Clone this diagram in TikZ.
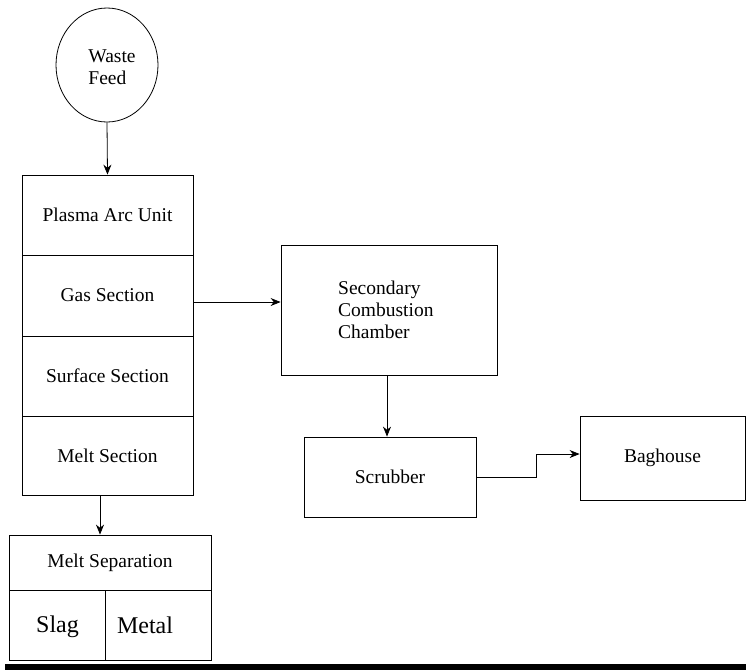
\documentclass[tikz,border=0pt]{standalone}
\usepackage{fontspec}
\newfontfamily\tnr{LiberationSerif}[Extension=.ttf,UprightFont=*-Regular,BoldFont=*-Bold]
\usetikzlibrary{shapes.geometric,arrows.meta}
\begin{document}
\begin{tikzpicture}[x=1pt,y=-1pt,
  blk/.style={draw, rectangle, inner sep=0pt, line width=0.8pt, font=\tnr\fontsize{19.5}{22}\selectfont},
  txt/.style={inner sep=0pt, font=\tnr\fontsize{19.5}{22}\selectfont},
  big/.style={inner sep=0pt, font=\tnr\fontsize{24}{26}\selectfont},
  arr/.style={line width=0.8pt, -{Stealth[length=10pt,width=8pt]}}]
\useasboundingbox (0,0) rectangle (746,670);
% waste feed
\node[draw, ellipse, line width=0.8pt, minimum width=102pt, minimum height=114pt, inner sep=0pt] (waste) at (107,65) {};
\node[txt, align=left] (wastetxt) at (112,67) {Waste\\Feed};
% stack
\node[blk, minimum width=171pt, minimum height=80pt] (plasma) at (107.5,215) {Plasma Arc Unit};
\node[blk, minimum width=171pt, minimum height=81pt] (gas) at (107.5,295.5) {Gas Section};
\node[blk, minimum width=171pt, minimum height=80pt] (surf) at (107.5,376) {Surface Section};
\node[blk, minimum width=171pt, minimum height=79pt] (melt) at (107.5,455.5) {Melt Section};
% melt separation
\node[blk, minimum width=202pt, minimum height=55pt] (sep) at (110,562.5) {Melt Separation};
\node[blk, minimum width=96pt, minimum height=70pt] (slag) at (57,625) {};
\node[blk, minimum width=106pt, minimum height=70pt] (metal) at (158,625) {};
\node[big] (slagtxt) at (57.5,627) {Slag};
\node[big] (metaltxt) at (145,625) {Metal};
% secondary
\node[blk, minimum width=216pt, minimum height=130pt] (sec) at (389,310) {};
\node[txt, align=left, anchor=west] (sectxt) at (338,310) {Secondary\\Combustion\\Chamber};
\node[blk, minimum width=172pt, minimum height=80pt] (scrub) at (390,477) {Scrubber};
\node[blk, minimum width=165pt, minimum height=84pt] (bag) at (662.5,458) {Baghouse};
% bar
\fill[black] (5,664) rectangle (746,670);
% connectors
\draw[arr] (waste.south) -- (plasma.north);
\draw[arr] ([xshift=-7.5pt]melt.south) -- ([xshift=-7.5pt]melt.south |- sep.north);
\draw[arr] ([yshift=-6.5pt]gas.east) -- ([yshift=-6.5pt]gas.east -| sec.west);
\draw[arr] ([xshift=-2pt]sec.south) -- ([xshift=-2pt]sec.south |- scrub.north);
\draw[arr] (scrub.east) -- ++(60,0) |- ([yshift=4pt]bag.west);
\end{tikzpicture}
\end{document}
